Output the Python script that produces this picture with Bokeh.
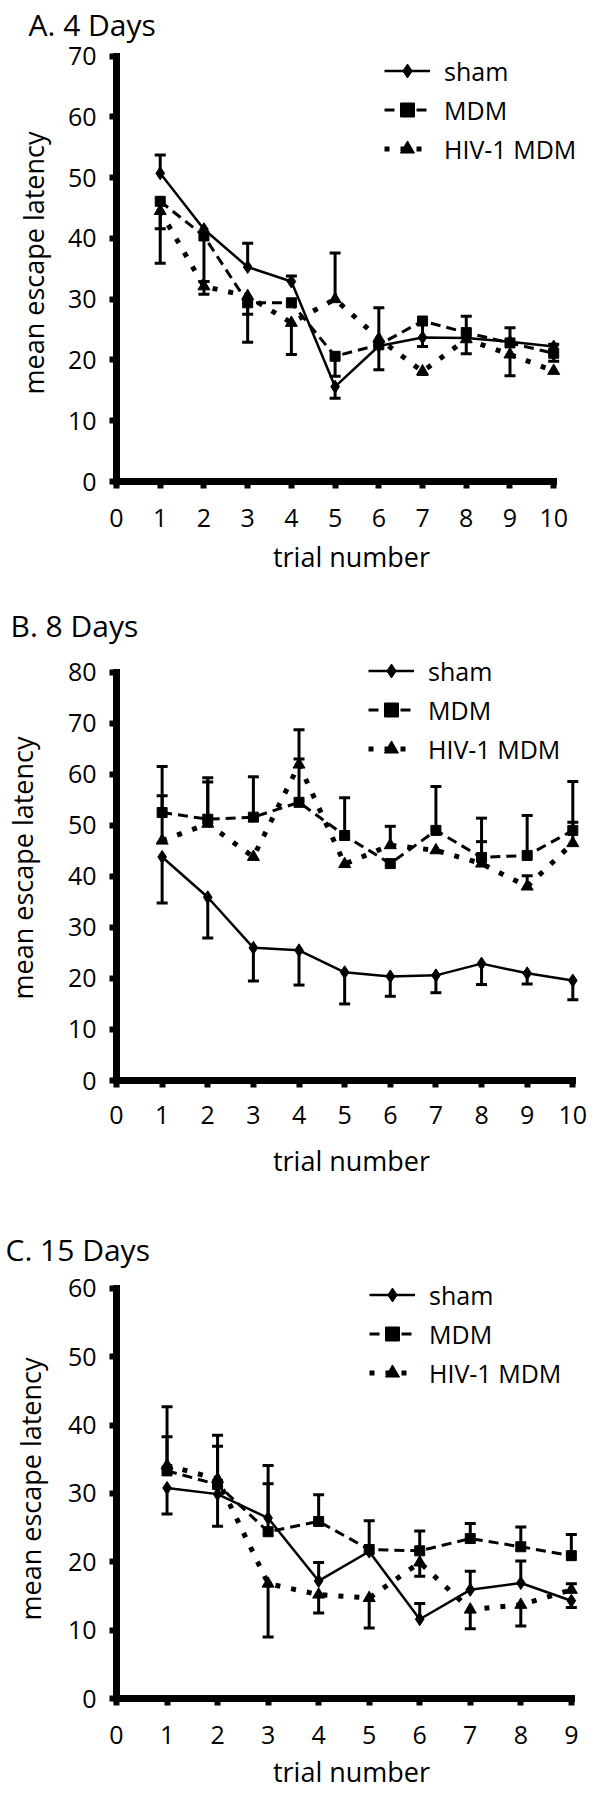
from bokeh.plotting import figure
from bokeh.models import (Range1d, FixedTicker, Legend, LegendItem, Whisker,
                          TeeHead, ColumnDataSource, Title)
from bokeh.layouts import column
from bokeh.embed import file_html
from bokeh.resources import INLINE

FONT = "Open Sans"

# ---------------- data ----------------
labels = ["sham", "MDM", "HIV-1 MDM"]
titles = ["A. 4 Days", "B. 8 Days", "C. 15 Days"]
x_title = "trial number"
y_title = "mean escape latency"

# Panel A: 4 days
trials_A = [1, 2, 3, 4, 5, 6, 7, 8, 9, 10]
xticks_A = [0, 1, 2, 3, 4, 5, 6, 7, 8, 9, 10]
yticks_A = [0, 10, 20, 30, 40, 50, 60, 70]
sham_A = [50.7, 41.5, 35.3, 32.9, 15.6, 22.3, 23.7, 23.6, 23.0, 22.2]
sham_A_up = [3.0, 0, 3.9, 0.9, 0, 0, 0, 3.6, 2.3, 0.4]
sham_A_dn = [0, 0, 0, 0, 1.9, 0, 0, 0, 0, 0]
mdm_A = [46.1, 40.4, 29.4, 29.4, 20.6, 22.5, 26.4, 24.5, 22.8, 21.1]
mdm_A_up = [0, 0, 0, 0, 0, 0, 0, 0, 0, 0]
mdm_A_dn = [4.5, 7.5, 6.5, 0, 3.3, 4.1, 4.2, 0, 0, 1.3]
hiv_A = [44.5, 32.1, 30.5, 26.1, 30.0, 23.5, 18.1, 23.4, 20.9, 18.2]
hiv_A_up = [0, 0.8, 0, 0, 7.6, 5.1, 0, 0, 0, 0]
hiv_A_dn = [8.6, 1.3, 3.0, 5.2, 0, 0, 0.5, 2.4, 3.5, 0]

# Panel B: 8 days
trials_B = [1, 2, 3, 4, 5, 6, 7, 8, 9, 10]
xticks_B = [0, 1, 2, 3, 4, 5, 6, 7, 8, 9, 10]
yticks_B = [0, 10, 20, 30, 40, 50, 60, 70, 80]
sham_B = [43.8, 35.9, 26.0, 25.5, 21.2, 20.4, 20.6, 22.9, 21.0, 19.6]
sham_B_up = [0, 0, 0, 0, 0, 0, 0, 0, 0, 0]
sham_B_dn = [9.0, 8.0, 6.5, 6.8, 6.2, 3.9, 3.4, 4.1, 2.1, 3.8]
mdm_B = [52.5, 51.2, 51.6, 54.5, 48.0, 42.5, 49.0, 43.7, 44.1, 49.0]
mdm_B_up = [9.0, 8.1, 7.9, 8.5, 7.4, 0, 8.6, 7.7, 7.8, 9.6]
mdm_B_dn = [0, 0, 0, 0, 0, 0, 0, 0, 0, 0]
hiv_B = [47.0, 50.3, 43.8, 61.9, 42.4, 46.1, 45.1, 42.5, 38.0, 46.5]
hiv_B_up = [8.8, 8.2, 0, 6.8, 0, 3.7, 0, 4.3, 2.1, 4.1]
hiv_B_dn = [0, 0, 0, 0, 0, 0, 0, 0, 0, 0]

# Panel C: 15 days
trials_C = [1, 2, 3, 4, 5, 6, 7, 8, 9]
xticks_C = [0, 1, 2, 3, 4, 5, 6, 7, 8, 9]
yticks_C = [0, 10, 20, 30, 40, 50, 60]
sham_C = [30.8, 29.9, 26.4, 17.2, 21.5, 11.6, 15.9, 16.9, 14.3]
sham_C_up = [0, 0, 5.0, 2.7, 4.5, 2.3, 2.7, 3.2, 0]
sham_C_dn = [3.8, 4.7, 0, 0, 0, 0, 0, 0, 1.0]
mdm_C = [33.3, 31.3, 24.4, 25.9, 21.8, 21.6, 23.4, 22.2, 20.9]
mdm_C_up = [5.0, 5.6, 9.7, 3.9, 0, 2.9, 2.2, 2.9, 3.1]
mdm_C_dn = [0, 0, 0, 0, 0, 0, 0, 0, 0]
hiv_C = [34.1, 32.1, 16.8, 15.2, 14.7, 19.9, 13.0, 13.7, 15.9]
hiv_C_up = [8.6, 6.4, 0, 0, 0, 0, 0, 0, 0.9]
hiv_C_dn = [0, 0, 7.8, 2.7, 4.4, 2.0, 2.8, 3.1, 0]

# ---------------- styles ----------------
STYLES = [
    dict(dash="solid", lw=2.5, marker="diamond", size=13),
    dict(dash="10 6", lw=3, marker="square", size=10),
    dict(dash="5 11", lw=5, marker="triangle", size=12),
]


def add_errorbars(p, xs, ys, ups, dns):
    ux = [x for x, u in zip(xs, ups) if u > 0]
    uy = [y for y, u in zip(ys, ups) if u > 0]
    uu = [y + u for y, u in zip(ys, ups) if u > 0]
    if ux:
        src = ColumnDataSource(dict(x=ux, lo=uy, hi=uu))
        p.add_layout(Whisker(source=src, base="x", lower="lo", upper="hi",
                             dimension="height", line_width=3, line_color="black",
                             upper_head=TeeHead(size=11, line_width=3, line_color="black"),
                             lower_head=None))
    dx = [x for x, d in zip(xs, dns) if d > 0]
    dy = [y for y, d in zip(ys, dns) if d > 0]
    dd = [y - d for y, d in zip(ys, dns) if d > 0]
    if dx:
        src = ColumnDataSource(dict(x=dx, lo=dd, hi=dy))
        p.add_layout(Whisker(source=src, base="x", lower="lo", upper="hi",
                             dimension="height", line_width=3, line_color="black",
                             lower_head=TeeHead(size=11, line_width=3, line_color="black"),
                             upper_head=None))


def make_panel(title, trials, series, xticks, yticks, x_end, y_end, height,
               mb_top, mb_bottom, mb_left, mb_right, title_standoff, title_offset,
               ylab_standoff, xtick_standoff, xlab_standoff, legend_loc):
    p = figure(width=595, height=height, output_backend="svg", toolbar_location=None,
               x_range=Range1d(0, x_end), y_range=Range1d(0, y_end),
               min_border_top=mb_top, min_border_bottom=mb_bottom,
               min_border_left=mb_left, min_border_right=mb_right)
    p.title = Title(text=title, align="left", offset=title_offset, standoff=title_standoff,
                    text_font=FONT, text_font_size="30px", text_font_style="normal",
                    text_color="black")
    p.outline_line_color = None
    p.grid.visible = False
    p.background_fill_color = "white"

    items = []
    for (ys, ups, dns), st, lab in zip(series, STYLES, labels):
        add_errorbars(p, trials, ys, ups, dns)
        lr = p.line(trials, ys, line_color="black", line_width=st["lw"],
                    line_dash=st["dash"])
        mr = p.scatter(trials, ys, marker=st["marker"], size=st["size"],
                       fill_color="black", line_color="black")
        items.append(LegendItem(label=lab, renderers=[lr, mr]))

    legend = Legend(items=items, location=legend_loc, glyph_width=46, glyph_height=35,
                    label_height=35, label_standoff=14, spacing=4, padding=0, margin=0,
                    border_line_color=None, background_fill_alpha=0,
                    label_text_font=FONT, label_text_font_size="25px",
                    label_text_color="black")
    p.add_layout(legend)

    p.xaxis.ticker = FixedTicker(ticks=xticks)
    p.yaxis.ticker = FixedTicker(ticks=yticks)
    p.xaxis.bounds = (xticks[0], xticks[-1])
    p.yaxis.bounds = (yticks[0], yticks[-1])
    p.xaxis.axis_label = x_title
    p.yaxis.axis_label = y_title
    for ax in (p.xaxis[0], p.yaxis[0]):
        ax.axis_line_width = 7
        ax.axis_line_color = "black"
        ax.axis_line_cap = "square"
        ax.major_tick_line_width = 6
        ax.major_tick_line_color = "black"
        ax.major_tick_out = 7
        ax.major_tick_in = 0
        ax.minor_tick_line_color = None
        ax.major_label_text_font = FONT
        ax.major_label_text_font_size = "25px"
        ax.major_label_text_color = "black"
        ax.axis_label_text_font = FONT
        ax.axis_label_text_font_size = "27px"
        ax.axis_label_text_font_style = "normal"
        ax.axis_label_text_color = "black"
    p.xaxis.major_label_standoff = xtick_standoff
    p.yaxis.major_label_standoff = 13
    p.xaxis.axis_label_standoff = xlab_standoff
    p.yaxis.axis_label_standoff = ylab_standoff
    return p


pA = make_panel(titles[0], trials_A,
                [(sham_A, sham_A_up, sham_A_dn), (mdm_A, mdm_A_up, mdm_A_dn),
                 (hiv_A, hiv_A_up, hiv_A_dn)],
                xticks_A, yticks_A, 10.75, 71.9, 592, 44, 111, 107, 2, 0, -88, 13, 20, 8,
                (268, 315))
pB = make_panel(titles[1], trials_B,
                [(sham_B, sham_B_up, sham_B_dn), (mdm_B, mdm_B_up, mdm_B_dn),
                 (hiv_B, hiv_B_up, hiv_B_dn)],
                xticks_B, yticks_B, 10.3, 83.27, 608, 60, 120, 108, 4, 20, -106, 24, 18, 15,
                (252, 314))
pC = make_panel(titles[2], trials_C,
                [(sham_C, sham_C_up, sham_C_dn), (mdm_C, mdm_C_up, mdm_C_dn),
                 (hiv_C, hiv_C_up, hiv_C_dn)],
                xticks_C, yticks_C, 9.3, 61.3, 592, 79, 89, 115, 9, 20, -111, 16, 20, 6,
                (253, 308))

layout = column(pA, pB, pC, spacing=0)
open("out.html", "w").write(file_html(layout, INLINE))
